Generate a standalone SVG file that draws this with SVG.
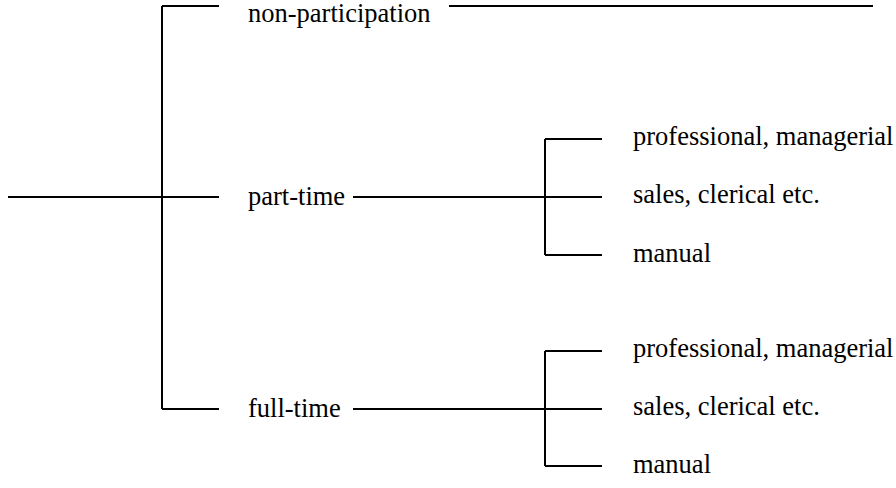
<svg xmlns="http://www.w3.org/2000/svg" width="896" height="488" viewBox="0 0 896 488">
<style>
.c{stroke:#000;stroke-width:2;fill:none}
text{font-family:"Liberation Serif","Times New Roman",serif;font-size:26.5px;fill:#000}
</style>
<rect width="896" height="488" fill="#fff"/>
<g id="connectors">
<path class="c" d="M8 197H219M162 6V409M162 6H219M162 409H219"/>
<path class="c" d="M449 6H873"/>
<path class="c" d="M353 197H602M545 139V255M545 139H602M545 255H602"/>
<path class="c" d="M353 409H602M545 351V466M545 351H602M545 466H602"/>
</g>
<g id="n-nonpart"><text x="248" y="22">non-participation</text></g>
<g id="n-part"><text x="248" y="205">part-time</text></g>
<g id="n-full"><text x="248" y="417">full-time</text></g>
<g id="n-pt-prof"><text x="633" y="145">professional, managerial</text></g>
<g id="n-pt-sales"><text x="633" y="203">sales, clerical etc.</text></g>
<g id="n-pt-manual"><text x="633" y="262">manual</text></g>
<g id="n-ft-prof"><text x="633" y="357">professional, managerial</text></g>
<g id="n-ft-sales"><text x="633" y="415">sales, clerical etc.</text></g>
<g id="n-ft-manual"><text x="633" y="473">manual</text></g>
</svg>
